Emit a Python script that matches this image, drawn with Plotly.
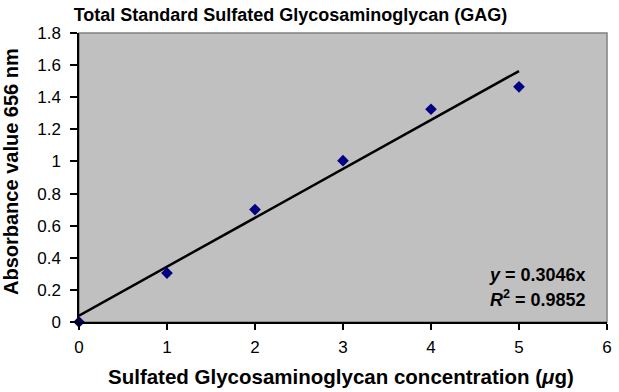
import plotly.graph_objects as go

conc = [0, 1, 2, 3, 4, 5]
absorbance = [0.0, 0.305, 0.70, 1.005, 1.325, 1.465]
trend_x = [0, 5]
trend_y = [0.04, 1.563]
x_ticks = [0, 1, 2, 3, 4, 5, 6]
y_ticks = [0, 0.2, 0.4, 0.6, 0.8, 1.0, 1.2, 1.4, 1.6, 1.8]
y_tick_labels = ["0", "0.2", "0.4", "0.6", "0.8", "1", "1.2", "1.4", "1.6", "1.8"]

font = "Liberation Sans, Arial, sans-serif"

L, R, T, B = 79, 607, 33, 322
W, H = R - L, B - T

fig = go.Figure()
fig.add_trace(go.Scatter(x=trend_x, y=trend_y, mode="lines",
                         line=dict(color="black", width=2.5), hoverinfo="skip"))
fig.add_trace(go.Scatter(x=conc, y=absorbance, mode="markers",
                         marker=dict(symbol="diamond", color="#000080", size=9,
                                     line=dict(width=0)), cliponaxis=False))

fig.update_layout(
    width=619, height=392,
    margin=dict(l=L, r=619 - R, t=T, b=392 - B),
    paper_bgcolor="white", plot_bgcolor="#c0c0c0",
    showlegend=False,
    font=dict(family=font, size=17, color="black"),
    title=dict(text="<b>Total Standard Sulfated Glycosaminoglycan (GAG)</b>",
               x=290.5 / 619, xanchor="center", y=1 - 15 / 392, yanchor="middle",
               font=dict(size=18, family=font)),
    shapes=[dict(type="rect", xref="paper", yref="paper", x0=0, x1=1, y0=0, y1=1,
                 line=dict(color="#808080", width=1.5), layer="below")],
    annotations=[
        dict(text="<b><i>y</i> = 0.3046x</b>", xref="paper", yref="paper",
             x=(588 - L) / W, y=(B - 275) / H, xanchor="right", yanchor="middle",
             showarrow=False, font=dict(size=18, family=font)),
        dict(text="<b><i>R</i><sup>2</sup> = 0.9852</b>", xref="paper", yref="paper",
             x=(588 - L) / W, y=(B - 298) / H, xanchor="right", yanchor="middle",
             showarrow=False, font=dict(size=18, family=font)),
        dict(text="<b>Sulfated Glycosaminoglycan concentration (<i>μ</i>g)</b>",
             xref="paper", yref="paper", x=(341 - L) / W, y=-(376 - B) / H,
             xanchor="center", yanchor="middle", showarrow=False,
             font=dict(size=20.5, family=font)),
        dict(text="<b>Absorbance value 656 nm</b>", textangle=-90,
             xref="paper", yref="paper", x=-(L - 11) / W, y=(B - 172) / H,
             xanchor="center", yanchor="middle", showarrow=False,
             font=dict(size=20, family=font)),
    ],
)
fig.update_xaxes(range=[0, 6], tickvals=x_ticks, showgrid=False, zeroline=False,
                 showline=True, linecolor="black", linewidth=1.5, automargin=False,
                 ticks="outside", ticklen=6, tickwidth=1.5, tickcolor="black",
                 ticklabelstandoff=3, tickfont=dict(size=17))
fig.update_yaxes(range=[0, 1.8], tickvals=y_ticks, ticktext=y_tick_labels,
                 showgrid=False, zeroline=False, automargin=False,
                 showline=True, linecolor="black", linewidth=1.5,
                 ticks="outside", ticklen=7, tickwidth=1.5, tickcolor="black",
                 ticklabelstandoff=6, tickfont=dict(size=17))

fig.write_html("out.html", config={"displayModeBar": False},
               post_script="document.body.style.margin='0';document.body.style.overflow='hidden';")
